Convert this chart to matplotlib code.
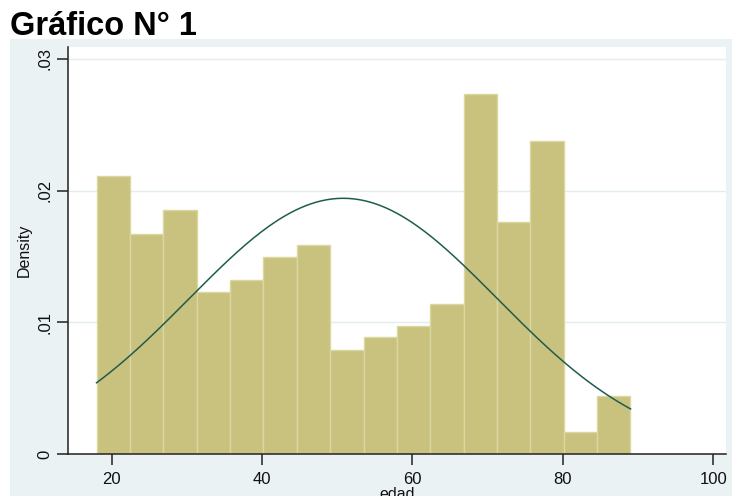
import numpy as np
import matplotlib.pyplot as plt
from matplotlib.patches import Rectangle

# histogram of edad (density scale), 16 bins from 18 to 89
bin_start = 18
bin_end = 89
density = [0.0211, 0.0167, 0.0185, 0.0123, 0.0132, 0.0150, 0.0159, 0.0079,
           0.0089, 0.0097, 0.0114, 0.0273, 0.0176, 0.0238, 0.0017, 0.0044]
# fitted normal overlay
mu = 50.8
sd = 20.54

x_ticks = [20, 40, 60, 80, 100]
y_ticks = [0, 0.01, 0.02, 0.03]
y_labels = ["0", ".01", ".02", ".03"]

plt.rcParams['font.family'] = ['Liberation Sans', 'DejaVu Sans']

fig = plt.figure(figsize=(7.32, 4.96), dpi=100)
fig.patch.set_facecolor('white')
# stata-like graph region
fig.patches.append(Rectangle((10 / 732, 0), 1, (496 - 39) / 496,
                             transform=fig.transFigure, facecolor='#EAF2F3',
                             edgecolor='none', zorder=-10))

ax = fig.add_axes([68 / 732, (496 - 454.3) / 496, (726 - 68) / 732, (454.3 - 47) / 496])
ax.set_facecolor('white')

edges = np.linspace(bin_start, bin_end, len(density) + 1)
width = edges[1] - edges[0]
ax.bar(edges[:-1], density, width=width, align='edge', color='#C9C27F',
       edgecolor='#DBD7A2', linewidth=1.0, zorder=2)

xs = np.linspace(bin_start, bin_end, 300)
ys = np.exp(-0.5 * ((xs - mu) / sd) ** 2) / (sd * np.sqrt(2 * np.pi))
ax.plot(xs, ys, color='#1F5C50', linewidth=1.1, zorder=3)

ax.set_xlim(14.2, 101.7)
ax.set_ylim(0, 0.0309)
ax.set_xticks(x_ticks)
ax.set_yticks(y_ticks)
ax.set_yticklabels(y_labels, rotation=90, va='center')
ax.yaxis.grid(True, color='#E3ECEE', linewidth=1, zorder=0)
ax.set_axisbelow(True)

for s in ['top', 'right']:
    ax.spines[s].set_visible(False)
for s in ['left', 'bottom']:
    ax.spines[s].set_color('#222222')
    ax.spines[s].set_linewidth(1.1)

ax.tick_params(axis='both', direction='out', length=8, width=1.1,
               color='#222222', labelsize=12, labelcolor='#111111')
ax.tick_params(axis='y', pad=3)
ax.tick_params(axis='x', pad=5)

ax.set_ylabel("Density", fontsize=11.5, color='#111111', labelpad=4)
ax.set_xlabel("edad", fontsize=11.5, color='#111111', labelpad=0)

fig.text(10 / 732, 1 - 35 / 496, "Gráfico N° 1", fontsize=23.5, fontweight='bold',
         va='baseline', ha='left', color='black')

fig.savefig("out.png", dpi=100)
